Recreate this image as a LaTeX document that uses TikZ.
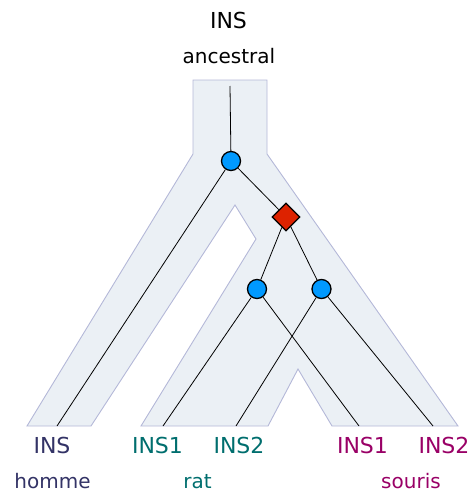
\documentclass[tikz,border=0pt]{standalone}
\usepackage{fontspec}
\setmainfont{DejaVu Sans}
\usetikzlibrary{shapes.geometric}
\definecolor{bandfill}{HTML}{EBF0F5}
\definecolor{bandline}{HTML}{B4B8D8}
\definecolor{dupblue}{HTML}{0099FF}
\definecolor{specred}{HTML}{DD2200}
\definecolor{homcol}{HTML}{333366}
\definecolor{ratcol}{HTML}{006E6E}
\definecolor{soucol}{HTML}{990066}
\tikzset{
  dup/.style={circle, draw=black, line width=1.3pt, fill=dupblue, inner sep=0pt, minimum size=19pt},
  spec/.style={diamond, draw=black, line width=1.3pt, fill=specred, inner sep=0pt, minimum size=28pt},
  gene/.style={line width=0.8pt, black},
  glab/.style={anchor=base, font=\fontsize{22}{26}\selectfont, inner sep=0pt},
  slab/.style={anchor=base, font=\fontsize{20}{24}\selectfont, inner sep=0pt},
}
\begin{document}
\begin{tikzpicture}[x=1pt,y=-1pt]
\useasboundingbox (0,0) rectangle (471,493);
% species tree band
\draw[fill=bandfill, draw=bandline, line width=0.9pt, line join=miter]
  (193,80) -- (267,80) -- (267,154) -- (458,426) -- (332,426) -- (298,369)
  -- (268,426) -- (141,426) -- (256,239) -- (235,205) -- (91,426) -- (27,426)
  -- (193,154) -- cycle;
% gene tree nodes
\coordinate (root) at (230,86);
\node[dup] (c0) at (231,161) {};
\node[spec] (d) at (286,217) {};
\node[dup] (c1) at (257,289) {};
\node[dup] (c2) at (321.5,289) {};
\coordinate (hINS) at (57,426);
\coordinate (r1) at (163,426);
\coordinate (r2) at (236,426);
\coordinate (s1) at (359,426);
\coordinate (s2) at (433,426);
% gene tree edges
\draw[gene] (root) -- (c0);
\draw[gene] (c0) -- (hINS);
\draw[gene] (c0) -- (d);
\draw[gene] (d) -- (c1);
\draw[gene] (d) -- (c2);
\draw[gene] (c1) -- (r1);
\draw[gene] (c1) -- (s1);
\draw[gene] (c2) -- (r2);
\draw[gene] (c2) -- (s2);
% labels
\node[glab] (tINS) at (228.5,28) {INS};
\node[slab] (tanc) at (229,63) {ancestral};
\node[glab, text=homcol] (lh) at (52,453) {INS};
\node[slab, text=homcol] (lhn) at (52.5,488) {homme};
\node[glab, text=ratcol] (lr1) at (157.5,453) {INS1};
\node[glab, text=ratcol] (lr2) at (239,453) {INS2};
\node[slab, text=ratcol] (lrn) at (197.5,488) {rat};
\node[glab, text=soucol] (ls1) at (362.5,453) {INS1};
\node[glab, text=soucol] (ls2) at (444,453) {INS2};
\node[slab, text=soucol] (lsn) at (411,488) {souris};
\end{tikzpicture}
\end{document}
